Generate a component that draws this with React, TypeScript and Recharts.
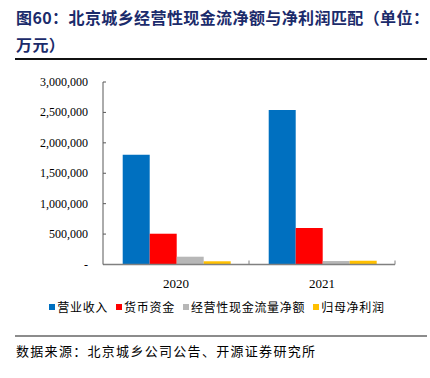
import React from "react";
import { BarChart, Bar, XAxis, YAxis } from "recharts";

const categories = ["2020", "2021"];
const revenue = [1805000, 2540000];
const cash = [506000, 600000];
const opCashFlow = [128000, 57000];
const netProfit = [53000, 62000];
const yTicks = [0, 500000, 1000000, 1500000, 2000000, 2500000, 3000000];

const seriesNames = ["营业收入", "货币资金", "经营性现金流量净额", "归母净利润"];
const seriesKeys = ["revenue", "cash", "opCashFlow", "netProfit"];
const seriesColors = ["#0070C0", "#FF0000", "#B7B7B7", "#FFC000"];

const data = categories.map((c, i) => ({
  name: c,
  revenue: revenue[i],
  cash: cash[i],
  opCashFlow: opCashFlow[i],
  netProfit: netProfit[i],
}));

const serif = '"Liberation Serif", "DejaVu Serif", serif';
const cjk = '"Noto Sans CJK SC", sans-serif';

const fmt = (v: number) => (v === 0 ? "-" : v.toLocaleString("en-US"));

const YTick = (props: any) => {
  const { x, y, payload } = props;
  const ax = x + 15;
  return (
    <g>
      {payload.value !== 0 && (
        <line x1={ax} x2={ax + 3} y1={y} y2={y} stroke="#595959" strokeWidth={1} />
      )}
      <text x={x} y={y} dy={4} textAnchor="end" fontFamily={serif} fontSize={12} fill="#000">
        {fmt(payload.value)}
      </text>
    </g>
  );
};

const XTick = (props: any) => {
  const { x, y, payload } = props;
  const half = payload && payload.offset ? payload.offset : 73;
  const axisY = y;
  return (
    <g>
      <line x1={x + half} x2={x + half} y1={axisY - 4} y2={axisY} stroke="#808080" strokeWidth={1} />
      <text x={x} y={axisY} dy={23} textAnchor="middle" fontFamily={serif} fontSize={13} fill="#000">
        {payload.value}
      </text>
    </g>
  );
};

const LegendBlock = () => (
  <div
    style={{
      position: "absolute",
      left: 0,
      top: 298,
      width: 430,
      display: "flex",
      justifyContent: "center",
      fontFamily: cjk,
      fontSize: 12,
      letterSpacing: 0.7,
      color: "#000",
      whiteSpace: "nowrap",
      paddingLeft: 4,
      boxSizing: "border-box",
    }}
  >
    {seriesNames.map((n, i) => (
      <span key={n} style={{ display: "inline-flex", alignItems: "center", marginRight: i < 3 ? 8 : 0 }}>
        <span style={{ width: 6, height: 6, background: seriesColors[i], display: "inline-block", marginRight: 2 }} />
        {n}
      </span>
    ))}
  </div>
);

export default function App() {
  return (
    <div style={{ position: "fixed", left: 0, top: 0, width: 430, height: 378, background: "#fff" }}>
      <div
        style={{
          position: "absolute",
          left: 16,
          top: 4,
          fontFamily: cjk,
          fontWeight: 700,
          fontSize: 16,
          lineHeight: "27px",
          color: "#1B2B6B",
          letterSpacing: 0.4,
          whiteSpace: "nowrap",
        }}
      >
        <div>图60：北京城乡经营性现金流净额与净利润匹配（单位：</div>
        <div>万元）</div>
      </div>
      <div style={{ position: "absolute", left: 15, top: 58, width: 412, height: 2, background: "#111" }} />
      <div style={{ position: "absolute", left: 0, top: 0 }}>
        <BarChart
          width={430}
          height={300}
          data={data}
          margin={{ top: 82, right: 35, bottom: 0, left: 0 }}
          barCategoryGap="13.5%"
          barGap={0}
        >
          <XAxis
            dataKey="name"
            axisLine={{ stroke: "#808080", strokeWidth: 1.5 }}
            tickLine={false}
            tick={<XTick />}
            tickSize={0}
            tickMargin={0}
            interval={0}
            height={35.5}
          />
          <YAxis
            domain={[0, 3000000]}
            ticks={yTicks}
            axisLine={{ stroke: "#595959", strokeWidth: 1 }}
            tickLine={false}
            tick={<YTick />}
            tickSize={0}
            tickMargin={15}
            width={103}
            interval={0}
          />
          {seriesKeys.map((k, i) => (
            <Bar key={k} dataKey={k} name={seriesNames[i]} fill={seriesColors[i]} isAnimationActive={false} />
          ))}
        </BarChart>
      </div>
      <LegendBlock />
      <div style={{ position: "absolute", left: 15, top: 335, width: 412, height: 1.5, background: "#8c8c8c" }} />
      <div
        style={{
          position: "absolute",
          left: 16,
          top: 341,
          fontFamily: cjk,
          fontSize: 13,
          letterSpacing: 1.3,
          color: "#000",
          whiteSpace: "nowrap",
        }}
      >
        数据来源：北京城乡公司公告、开源证券研究所
      </div>
    </div>
  );
}
